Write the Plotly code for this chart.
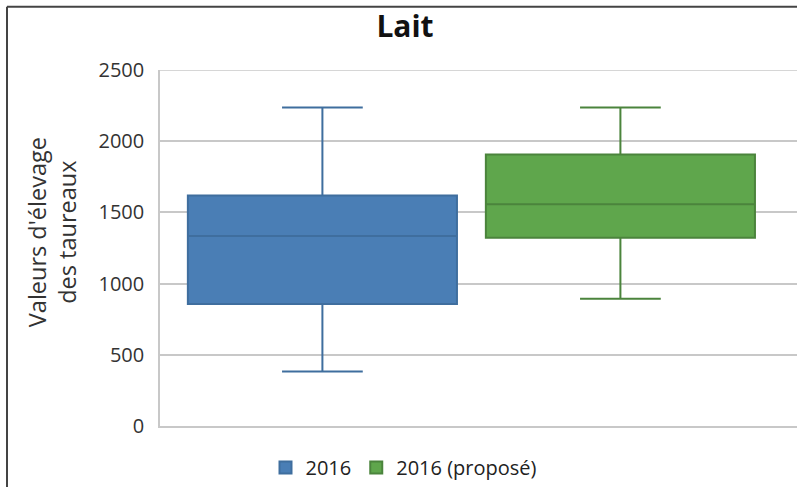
import plotly.graph_objects as go

# Data
series_names = ["2016", "2016 (proposé)"]
positions = [0, 1]
lower_fence = [382, 894]
q1_vals = [857, 1322]
medians = [1334, 1557]
q3_vals = [1619, 1907]
upper_fence = [2237, 2237]

fill_colors = ["#4A7EB5", "#5FA64C"]
line_colors = ["#3F6E9E", "#4B843C"]

y_ticks = [0, 500, 1000, 1500, 2000, 2500]

fig = go.Figure()
for i in range(2):
    fig.add_trace(go.Box(
        name=series_names[i],
        x=[positions[i]],
        q1=[q1_vals[i]], median=[medians[i]], q3=[q3_vals[i]],
        lowerfence=[lower_fence[i]], upperfence=[upper_fence[i]],
        fillcolor=fill_colors[i],
        line=dict(color=line_colors[i], width=2),
        width=0.903,
        whiskerwidth=0.3,
        boxpoints=False,
        hoverinfo="skip",
    ))

W, H = 797, 487
L, R, T, B = 160, 0, 70, 57
pw = W - L - R
ph = H - T - B

fig.update_layout(
    width=W, height=H,
    margin=dict(l=L, r=R, t=T, b=B),
    paper_bgcolor="white", plot_bgcolor="white",
    font=dict(family="Open Sans", color="#333333"),
    title=dict(text="<b>Lait</b>", x=405 / W, xanchor="center",
               y=1 - 26 / H, yanchor="middle", yref="container",
               font=dict(size=30, color="#111111", family="Open Sans")),
    showlegend=True,
    legend=dict(orientation="h", x=(404 - L) / pw, xanchor="center",
                y=(430 - 472) / ph, yanchor="middle",
                font=dict(size=20, color="#222222"),
                itemwidth=30, tracegroupgap=0),
    xaxis=dict(range=[-0.545, -0.545 + pw / 298.0], showticklabels=False,
               showgrid=False, zeroline=False, showline=True, mirror=False,
               linecolor="#C8C8C8", linewidth=1.5, fixedrange=True),
    yaxis=dict(range=[0, 2500], tickvals=y_ticks, showgrid=True,
               gridcolor="#C8C8C8", gridwidth=1.5, zeroline=False,
               showline=True, linecolor="#C8C8C8", linewidth=1.5,
               ticks="", ticklabelstandoff=10,
               tickfont=dict(size=20, color="#333333")),
)

fig.add_annotation(
    text="Valeurs d'élevage<br>des taureaux",
    xref="paper", yref="paper",
    x=(52 - L) / pw, y=(430 - 234) / ph,
    xanchor="center", yanchor="middle",
    textangle=-90, showarrow=False,
    font=dict(size=23.5, color="#333333", family="Open Sans"),
)

# top gridline at 2500 (edge of range)
fig.add_shape(type="line", xref="paper", yref="y",
              x0=0, x1=1, y0=2500, y1=2500,
              line=dict(color="#C8C8C8", width=1.5))

# outer frame
fig.add_shape(type="line", xref="paper", yref="paper",
              x0=(7 - L) / pw, x1=(7 - L) / pw,
              y0=(430 - 6) / ph, y1=(430 - 495) / ph,
              line=dict(color="#444444", width=2))
fig.add_shape(type="line", xref="paper", yref="paper",
              x0=(7 - L) / pw, x1=(805 - L) / pw,
              y0=(430 - 6) / ph, y1=(430 - 6) / ph,
              line=dict(color="#444444", width=2))

fig.write_html("out.html", config={"displayModeBar": False},
               post_script="document.body.style.margin='0';")
